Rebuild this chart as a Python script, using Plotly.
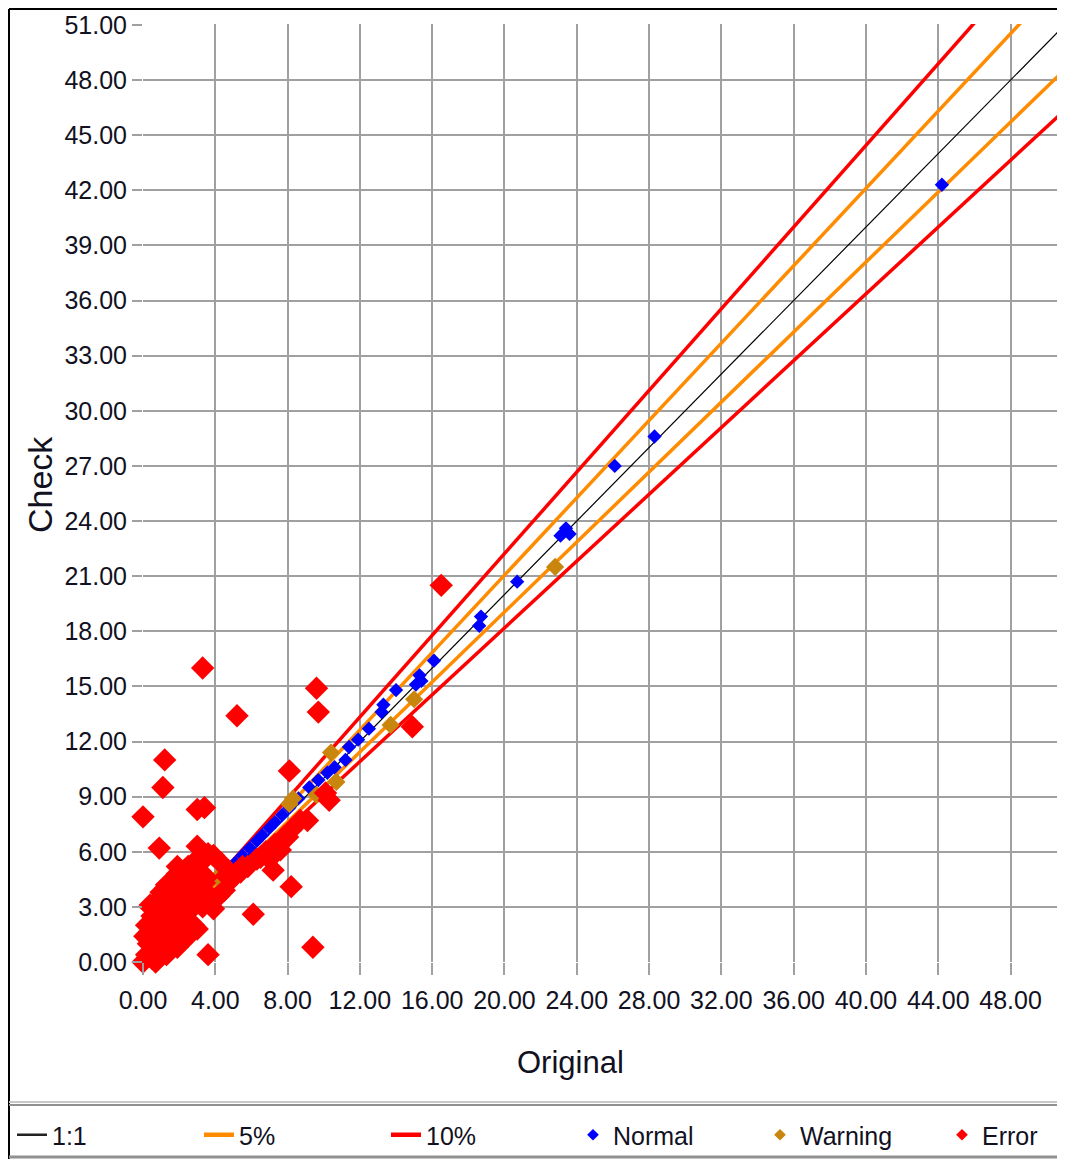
import plotly.graph_objects as go

# ---------------- data ----------------
normal_x = [44.2, 28.3, 26.1, 23.4, 23.1, 23.6, 20.7, 18.7, 18.6, 16.1, 15.4, 15.1, 15.3,
            14.0, 13.3, 13.2, 12.5, 11.9, 11.4, 11.2, 10.6, 10.2, 9.7, 9.2, 8.6, 8.1,
            7.7, 7.3, 7.0, 6.6, 6.3, 5.9, 5.5, 5.1, 4.8, 4.4]
normal_y = [42.3, 28.6, 27.0, 23.6, 23.2, 23.3, 20.7, 18.8, 18.3, 16.4, 15.3, 15.1, 15.6,
            14.8, 14.0, 13.6, 12.7, 12.1, 11.7, 11.0, 10.6, 10.3, 9.9, 9.5, 8.9, 8.4,
            8.0, 7.6, 7.3, 6.9, 6.6, 6.2, 5.8, 5.4, 5.0, 4.6]

warning_x = [22.8, 15.0, 13.7, 10.4, 8.3, 8.1, 9.6, 10.7, 4.1, 3.4]
warning_y = [21.5, 14.3, 12.9, 11.4, 8.9, 8.6, 9.1, 9.8, 4.6, 3.9]

error_x = [16.5, 3.3, 9.6, 9.7, 5.2, 1.2, 1.1, 0.0, 3.0, 3.4, 8.1, 0.9, 3.0, 3.9,
           10.3, 10.1, 9.1, 8.2, 7.2, 8.2, 6.1, 9.4, 3.6, 0.4, 14.9, 6.5, 5.4, 8.0,
           4.8, 5.5, 7.0, 8.7, 7.6, 5.0, 5.8, 6.3, 6.8, 7.3, 7.8, 4.5,
           0.0, 0.2, 0.5, 0.3, 0.8, 0.6, 1.0, 1.2, 0.9, 1.5, 1.4, 1.8, 1.1, 1.6,
           2.0, 2.2, 1.8, 2.4, 2.6, 2.1, 2.6, 2.9, 3.1, 1.9, 2.3, 0.4, 0.2, 1.3,
           2.0, 2.8, 3.3, 3.5, 3.7, 1.9, 4.3, 4.6, 1.5, 2.7, 3.2, 0.7, 1.7, 2.5,
           3.0, 1.3, 2.2, 0.5, 1.0, 1.6, 2.8, 3.6, 0.5, 1.0, 1.3, 2.7, 3.2, 0.7,
           0.1, 1.9, 2.5, 3.0, 3.9, 4.2, 3.4]
error_y = [20.5, 16.0, 14.9, 13.6, 13.4, 11.0, 9.5, 7.9, 8.3, 8.4, 10.4, 6.2, 6.3, 5.8,
           8.8, 9.2, 7.7, 7.2, 5.0, 4.1, 2.6, 0.8, 0.4, 3.1, 12.8, 5.7, 4.9, 6.8,
           4.9, 5.2, 5.6, 7.7, 6.1, 4.6, 5.2, 5.6, 6.0, 6.4, 6.8, 3.9,
           0.0, 0.4, 0.2, 1.0, 0.6, 1.5, 1.0, 1.6, 2.2, 1.2, 2.3, 1.8, 2.9, 3.0,
           2.4, 3.0, 3.6, 3.6, 2.8, 4.1, 4.4, 3.4, 4.0, 4.8, 5.0, 3.0, 2.0, 0.4,
           1.0, 2.0, 3.0, 4.6, 3.6, 5.2, 5.4, 4.7, 2.6, 3.9, 4.9, 2.6, 4.0, 5.2,
           5.6, 3.6, 4.6, 1.2, 3.8, 2.0, 4.7, 5.9, 2.5, 3.5, 4.2, 5.2, 5.4, 0.0,
           1.4, 0.8, 1.4, 1.8, 2.9, 3.6, 4.3]

# tolerance lines (endpoints): Check = Original / (1 -/+ tolerance)
line_x = [3.0, 60.0]
one_y = [3.0, 60.0]
up5_y = [3.158, 63.158]
lo5_y = [2.857, 57.143]
up10_y = [3.333, 66.667]
lo10_y = [2.727, 54.545]

x_ticks = [0, 4, 8, 12, 16, 20, 24, 28, 32, 36, 40, 44, 48]
y_ticks = [0, 3, 6, 9, 12, 15, 18, 21, 24, 27, 30, 33, 36, 39, 42, 45, 48, 51]

# ---------------- figure ----------------
BLUE = "#0000FF"
GOLD = "#C8860F"
RED = "#FF0000"
ORANGE = "#FF8C00"

fig = go.Figure()
fig.add_trace(go.Scatter(x=line_x, y=lo10_y, mode="lines", line=dict(color=RED, width=3.5),
                         showlegend=False, hoverinfo="skip"))
fig.add_trace(go.Scatter(x=line_x, y=up10_y, mode="lines", line=dict(color=RED, width=3.5),
                         name="10%", showlegend=False))
fig.add_trace(go.Scatter(x=line_x, y=lo5_y, mode="lines", line=dict(color=ORANGE, width=3.5),
                         showlegend=False, hoverinfo="skip"))
fig.add_trace(go.Scatter(x=line_x, y=up5_y, mode="lines", line=dict(color=ORANGE, width=3.5),
                         name="5%", showlegend=False))
fig.add_trace(go.Scatter(x=line_x, y=one_y, mode="lines", line=dict(color="black", width=1.2),
                         name="1:1", showlegend=False))

fig.add_trace(go.Scatter(x=normal_x, y=normal_y, mode="markers", name="Normal",
                         marker=dict(symbol="diamond", color=BLUE, size=11), showlegend=False,
                         cliponaxis=False))
fig.add_trace(go.Scatter(x=warning_x, y=warning_y, mode="markers", name="Warning",
                         marker=dict(symbol="diamond", color=GOLD, size=14), showlegend=False,
                         cliponaxis=False))
fig.add_trace(go.Scatter(x=error_x, y=error_y, mode="markers", name="Error",
                         marker=dict(symbol="diamond", color=RED, size=18), showlegend=False,
                         cliponaxis=False))

# legend entries
for nm, col, w in [("1:1", "#222222", 2.5), ("5%", ORANGE, 4.5), ("10%", RED, 4.5)]:
    fig.add_trace(go.Scatter(x=[None], y=[None], mode="lines", name=nm,
                             line=dict(color=col, width=w), legend="legend"))
for nm, col, lg in [("Normal", BLUE, "legend"), ("Warning", GOLD, "legend"), ("Error", RED, "legend2")]:
    fig.add_trace(go.Scatter(x=[None], y=[None], mode="markers", name=nm,
                             marker=dict(symbol="diamond", color=col, size=9), legend=lg))

FONT = "Liberation Sans, Arial, sans-serif"
TICKFONT = dict(family=FONT, size=25, color="#111122")

fig.update_xaxes(range=[0, 50.9], tickvals=x_ticks, ticktext=[f"{v:.2f}" for v in x_ticks],
                 showgrid=True, gridcolor="#A0A0A0", gridwidth=2, zeroline=False,
                 ticks="outside", ticklen=12, tickcolor="#A0A0A0", tickwidth=2,
                 tickfont=TICKFONT, ticklabelstandoff=4, showline=False, automargin=False)
fig.update_yaxes(range=[0, 51.05], tickvals=y_ticks, ticktext=[f"{v:.2f}" for v in y_ticks],
                 showgrid=True, gridcolor="#A0A0A0", gridwidth=2, zeroline=False,
                 ticks="outside", ticklen=10, tickcolor="#A0A0A0", tickwidth=2,
                 tickfont=TICKFONT, ticklabelstandoff=0, showline=False, automargin=False)

# page is offset by the 8px body margin; keep the page from scrolling
OFF = 8
W, H = 1065 - OFF, 1167 - 2 * OFF
L, R, T = 143 - OFF, 2, 24 - OFF
B = H - (962 - OFF)
pw, ph = W - L - R, H - T - B

def px(x):
    return (x - OFF - L) / pw

def py(y):
    return (H - B - (y - OFF)) / ph

LEGFONT = dict(family=FONT, size=25, color="#111122")

fig.update_layout(
    width=W, height=H,
    margin=dict(l=L, r=R, t=T, b=B, autoexpand=False),
    paper_bgcolor="white", plot_bgcolor="white",
    showlegend=True,
    legend=dict(orientation="h", x=px(12), xanchor="left", y=py(1135), yanchor="middle",
                entrywidth=142, entrywidthmode="pixels", font=LEGFONT,
                bgcolor="rgba(0,0,0,0)", traceorder="normal"),
    legend2=dict(orientation="h", x=px(942), xanchor="left", y=py(1135), yanchor="middle",
                 font=LEGFONT, bgcolor="rgba(0,0,0,0)"),
    annotations=[
        dict(text="Original", x=px(570), y=py(1062), xref="paper", yref="paper",
             showarrow=False, xanchor="center", yanchor="middle",
             font=dict(family=FONT, size=31, color="#111122")),
        dict(text="Check", x=px(40), y=py(485), xref="paper", yref="paper",
             showarrow=False, xanchor="center", yanchor="middle", textangle=-90,
             font=dict(family=FONT, size=34, color="#111122")),
    ],
    shapes=[
        dict(type="line", xref="paper", yref="paper", x0=px(9), x1=px(1066), y0=py(9), y1=py(9),
             line=dict(color="black", width=2)),
        dict(type="line", xref="paper", yref="paper", x0=px(9), x1=px(9), y0=py(9), y1=py(1160),
             line=dict(color="black", width=2)),
        dict(type="line", xref="paper", yref="paper", x0=px(9), x1=px(1066), y0=py(1102), y1=py(1102),
             line=dict(color="#C8C8C8", width=2)),
        dict(type="line", xref="paper", yref="paper", x0=px(9), x1=px(1066), y0=py(1105), y1=py(1105),
             line=dict(color="#909090", width=2)),
        dict(type="line", xref="paper", yref="paper", x0=px(9), x1=px(1066), y0=py(1157), y1=py(1157),
             line=dict(color="#909090", width=3)),
    ],
)

fig.write_html("out.html")
